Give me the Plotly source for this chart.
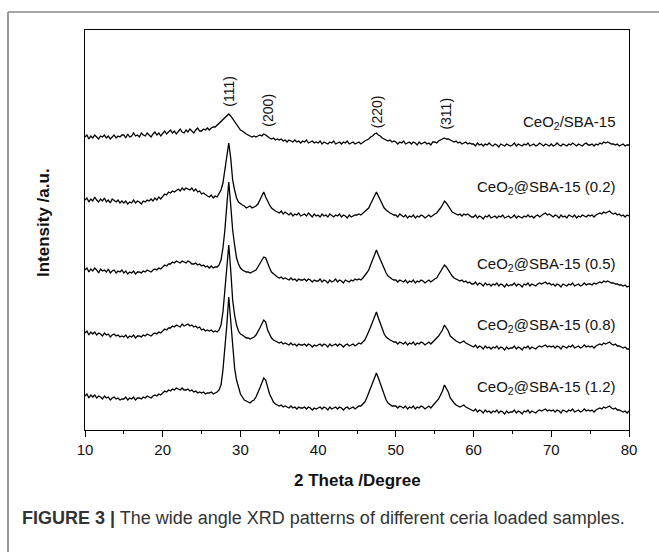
import numpy as np
import plotly.graph_objects as go

# 2-theta sampling grid (degrees), 0.25 deg step from 10 to 80
two_theta = [round(10 + 0.25 * i, 2) for i in range(281)]

# Intensities (a.u., already vertically offset for stacking)
ceo2_sba15 = [
 293,295,291,294,292,295,293,291,294,293,295,292,294,291,293,295,292,294,293,295,
 295,292,296,293,294,297,294,295,293,297,295,294,297,295,293,296,298,295,297,294,
 297,299,296,298,300,297,299,296,298,301,298,297,300,298,301,299,297,300,302,299,
 299,301,300,302,300,302,303,303,305,306,308,310,312,314,316,314,311,309,305,303,
 300,299,297,296,295,294,293,294,293,294,295,294,296,295,293,292,291,292,290,291,
 290,291,289,290,288,290,289,288,290,288,289,287,289,288,290,287,288,289,287,288,
 287,289,286,288,287,286,288,287,289,286,287,288,286,288,287,289,286,287,288,286,
 287,288,286,288,289,290,291,293,294,296,297,295,294,292,291,290,289,290,288,289,
 288,286,288,287,289,286,287,288,286,288,287,285,288,286,287,288,286,287,285,288,
 288,287,289,290,291,292,291,291,290,289,288,289,287,288,286,287,288,286,287,286,
 286,284,287,285,286,284,286,285,287,285,284,286,285,283,286,285,284,286,285,284,
 285,287,284,286,285,284,286,285,287,284,285,286,284,285,287,285,284,286,285,284,
 286,284,285,287,285,284,286,285,284,286,285,287,285,284,286,285,284,286,287,285,
 285,286,284,286,285,287,286,288,287,288,287,286,286,285,286,284,285,286,284,285,
 285]

ceo2_at_02 = [
 230,232,228,231,229,233,230,228,231,229,232,228,230,227,231,229,228,230,227,229,
 227,229,226,228,227,230,227,229,228,226,229,228,230,229,231,229,232,230,233,231,
 234,236,235,238,237,239,238,240,241,239,242,240,242,241,240,242,239,241,238,239,
 236,237,235,234,233,235,232,234,233,236,240,247,260,275,287,272,250,240,232,228,
 226,225,224,222,223,224,222,223,224,226,230,234,238,233,228,225,222,220,219,218,
 217,219,216,218,216,215,217,214,216,215,217,214,215,216,214,217,215,213,216,214,
 215,213,216,214,215,213,216,214,213,215,214,216,213,215,214,212,215,213,214,215,
 215,216,215,217,218,220,222,226,230,235,238,234,230,226,222,220,218,217,216,215,
 215,213,216,214,213,215,212,214,213,215,212,214,213,215,214,212,214,215,213,215,
 216,217,219,222,225,229,227,224,220,218,217,216,215,216,214,216,215,216,214,213,
 213,215,212,214,213,211,214,213,215,212,213,214,212,214,213,215,212,213,214,212,
 213,215,212,214,213,212,214,213,215,213,214,212,214,215,213,215,216,217,215,216,
 214,213,215,214,212,215,213,214,212,215,214,213,215,212,214,213,215,214,213,215,
 214,215,213,215,216,217,216,218,217,218,219,217,216,217,215,216,214,215,213,215,
 214]

ceo2_at_05 = [
 160,162,158,161,159,162,160,157,161,159,160,158,161,157,159,160,157,159,158,160,
 157,159,156,158,157,159,156,158,158,157,159,158,160,159,158,160,161,160,162,161,
 163,165,164,166,166,168,167,169,168,167,169,168,167,169,168,166,166,167,165,166,
 164,165,163,164,162,164,162,163,163,165,170,182,200,225,248,225,200,185,172,166,
 162,160,159,158,158,157,158,159,160,163,166,170,173,172,166,162,158,156,154,153,
 152,153,151,152,151,150,152,150,151,149,151,150,150,151,149,151,150,148,150,149,
 149,151,148,150,149,147,150,148,149,151,148,150,149,147,150,149,148,150,149,151,
 150,151,150,152,154,157,160,165,170,176,180,175,170,165,160,157,154,152,151,150,
 150,148,150,149,148,150,147,149,148,150,147,149,148,150,149,147,149,150,148,150,
 151,152,155,158,162,165,163,160,156,154,152,151,150,149,150,148,149,147,148,146,
 146,148,145,147,146,144,147,145,146,144,146,145,147,144,146,145,143,146,144,145,
 145,147,144,146,145,143,146,145,147,144,146,145,144,146,147,146,147,148,146,147,
 145,146,144,146,145,143,146,145,144,146,145,147,144,145,146,144,145,147,145,146,
 146,145,147,146,147,148,147,149,148,149,148,147,147,146,146,145,145,144,145,143,
 144]

ceo2_at_08 = [
 97,99,95,98,96,98,95,97,96,94,97,95,96,93,95,96,94,95,93,94,
 93,95,92,94,93,95,92,94,94,93,95,94,96,95,94,96,97,96,98,97,
 99,101,100,102,102,104,103,105,104,103,106,104,105,106,104,105,103,104,102,103,
 100,101,99,100,99,100,98,99,98,100,105,118,140,160,185,160,130,115,105,99,
 96,95,93,92,92,91,92,93,95,98,102,106,110,108,100,96,92,90,89,88,
 87,88,86,87,86,85,87,85,86,84,86,85,85,86,84,86,85,83,85,84,
 85,86,84,86,85,83,86,84,85,86,84,86,85,83,85,86,84,85,86,84,
 86,87,86,88,90,94,98,103,108,113,118,112,106,100,96,93,91,90,89,88,
 88,86,88,87,86,88,85,87,86,88,85,87,86,88,87,85,87,88,86,88,
 90,91,94,97,100,105,102,99,94,92,90,89,88,87,88,89,87,86,85,84,
 83,85,82,84,83,81,84,82,83,81,83,82,84,81,83,82,80,83,81,82,
 82,84,81,83,82,80,83,82,84,81,83,82,81,83,84,83,84,85,83,84,
 83,84,82,84,83,81,84,83,82,84,83,85,82,83,84,82,83,85,83,84,
 83,84,82,84,85,86,85,87,86,87,88,86,85,86,84,84,83,82,83,81,
 81]

ceo2_at_12 = [
 34,36,32,35,33,35,32,34,33,31,34,32,33,30,32,33,31,32,30,31,
 31,33,30,32,31,33,30,32,32,31,33,32,34,33,32,34,35,34,36,35,
 37,39,38,40,39,41,40,42,41,40,42,40,40,41,39,40,38,39,37,38,
 37,38,36,37,37,38,36,37,38,40,45,60,80,105,133,110,80,62,50,42,
 36,33,30,29,28,27,29,30,33,37,42,47,52,50,42,36,32,28,26,25,
 24,25,23,24,23,22,24,22,23,21,23,22,22,23,21,23,22,20,22,21,
 22,23,21,23,22,20,23,21,22,23,21,23,22,20,22,23,21,22,23,21,
 23,24,24,26,28,32,37,42,48,53,57,52,46,40,34,30,27,25,24,24,
 24,22,24,23,22,24,21,23,22,24,21,23,22,24,23,21,23,24,22,24,
 26,28,31,35,39,45,42,38,32,29,27,25,24,23,24,25,23,22,21,20,
 19,21,18,20,19,17,20,18,19,17,19,18,20,17,19,18,16,19,17,18,
 18,20,17,19,18,16,19,18,20,17,19,18,17,19,20,19,20,21,19,20,
 19,20,18,20,19,17,20,19,18,20,19,21,18,19,20,18,19,21,19,20,
 19,20,18,20,21,22,21,23,22,23,24,22,21,22,20,20,19,18,19,17,
 19]

series = [ceo2_sba15, ceo2_at_02, ceo2_at_05, ceo2_at_08, ceo2_at_12]
sample_labels = ["CeO<sub>2</sub>/SBA-15", "CeO<sub>2</sub>@SBA-15 (0.2)",
                 "CeO<sub>2</sub>@SBA-15 (0.5)", "CeO<sub>2</sub>@SBA-15 (0.8)",
                 "CeO<sub>2</sub>@SBA-15 (1.2)"]
label_y = [308, 243, 166, 105, 43]

peak_names = ["(111)", "(200)", "(220)", "(311)"]
peak_pos = [28.5, 33.5, 47.6, 56.4]
peak_label_y = [339, 320, 318, 316]

for s in series:
    assert len(s) == len(two_theta), len(s)

FONT = "Liberation Sans, Arial, Helvetica, sans-serif"

fig = go.Figure()
for s in series:
    fig.add_trace(go.Scatter(x=two_theta, y=s, mode="lines",
                             line=dict(color="black", width=1.3),
                             showlegend=False, hoverinfo="skip"))

annotations = []
for lab, yv in zip(sample_labels, label_y):
    annotations.append(dict(x=78.6, y=yv, xref="x", yref="y", text=lab,
                            showarrow=False, xanchor="right", yanchor="middle",
                            font=dict(family=FONT, size=15, color="#111")))
for name, xp, yp in zip(peak_names, peak_pos, peak_label_y):
    annotations.append(dict(x=xp, y=yp, xref="x", yref="y", text=name,
                            showarrow=False, textangle=-90, xanchor="center",
                            yanchor="middle",
                            font=dict(family=FONT, size=14, color="#111")))

# axis titles & caption
annotations.append(dict(x=(43 - 85) / 544, y=(430 - 223) / 400, xref="paper", yref="paper",
                        text="<b>Intensity /a.u.</b>", textangle=-90, showarrow=False,
                        xanchor="center", yanchor="middle",
                        font=dict(family=FONT, size=17, color="#111")))
annotations.append(dict(x=(357 - 85) / 544, y=(430 - 480) / 400, xref="paper", yref="paper",
                        text="<b>2 Theta /Degree</b>", showarrow=False,
                        xanchor="center", yanchor="middle",
                        font=dict(family=FONT, size=17, color="#111")))
annotations.append(dict(x=(20 - 85) / 544, y=(430 - 518) / 400, xref="paper", yref="paper",
                        text="<b>FIGURE 3 |</b> The wide angle XRD patterns of different ceria loaded samples.",
                        showarrow=False, xanchor="left", yanchor="middle",
                        font=dict(family=FONT, size=18, color="#333")))

shapes = [
    dict(type="line", xref="paper", yref="paper",
         x0=(8 - 85) / 544, x1=(659 - 85) / 544, y0=(430 - 12) / 400, y1=(430 - 12) / 400,
         line=dict(color="#888888", width=1.5)),
    dict(type="line", xref="paper", yref="paper",
         x0=(8 - 85) / 544, x1=(8 - 85) / 544, y0=(430 - 12) / 400, y1=(430 - 552) / 400,
         line=dict(color="#999999", width=2)),
]

fig.update_layout(
    width=659, height=552,
    margin=dict(l=85, r=30, t=30, b=122),
    paper_bgcolor="white", plot_bgcolor="white",
    annotations=annotations, shapes=shapes,
    font=dict(family=FONT, size=15, color="#111"),
    xaxis=dict(range=[10, 80], dtick=10, tick0=10, ticks="outside", ticklen=6,
               tickwidth=1, tickcolor="black", showline=True, linecolor="black",
               linewidth=1, mirror=True, showgrid=False, zeroline=False,
               tickfont=dict(family=FONT, size=15, color="#111"),
               minor=dict(dtick=5, ticks="outside", ticklen=3, tickcolor="black", showgrid=False)),
    yaxis=dict(range=[0, 400], showticklabels=False, ticks="", showline=True,
               linecolor="black", linewidth=1, mirror=True, showgrid=False, zeroline=False),
)

fig.write_html("out.html")
